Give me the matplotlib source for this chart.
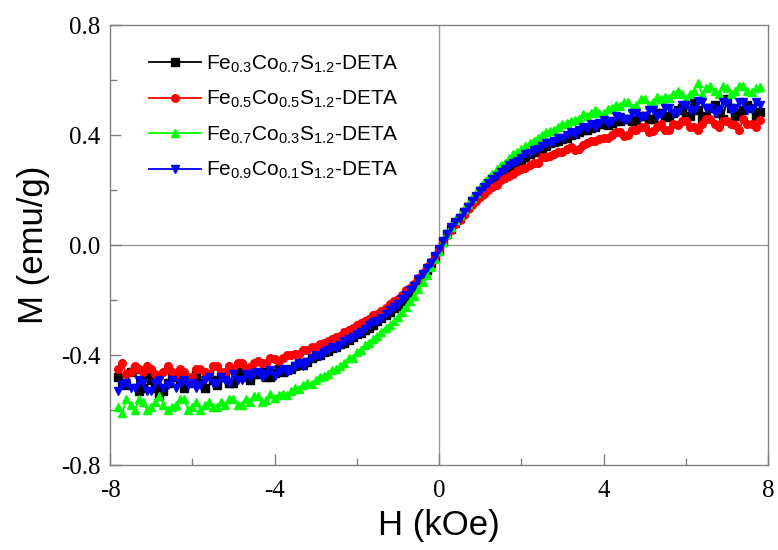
import matplotlib
matplotlib.use("Agg")
import matplotlib.pyplot as plt
import numpy as np
from matplotlib.ticker import MultipleLocator

plt.rcParams['mathtext.fontset'] = 'custom'
plt.rcParams['mathtext.rm'] = 'Liberation Sans'
plt.rcParams['mathtext.default'] = 'regular'

# field sweep, kOe (-7.8 ... 7.8, 0.1 steps)
H = np.round(np.arange(-7.8, 7.81, 0.1), 2)

# magnetization (emu/g), 10 points per row
M_03 = [-0.48, -0.50, -0.51, -0.46, -0.45, -0.53, -0.52, -0.48, -0.49, -0.52,
        -0.55, -0.53, -0.50, -0.48, -0.47, -0.50, -0.52, -0.50, -0.49, -0.47,
        -0.50, -0.52, -0.47, -0.49, -0.51, -0.48, -0.48, -0.50, -0.50, -0.47,
        -0.46, -0.48, -0.49, -0.47, -0.47, -0.46, -0.48, -0.48, -0.465, -0.45,
        -0.46, -0.455, -0.45, -0.44, -0.43, -0.435, -0.425, -0.41, -0.405, -0.40,
        -0.39, -0.385, -0.375, -0.37, -0.36, -0.355, -0.345, -0.335, -0.325, -0.32,
        -0.31, -0.30, -0.29, -0.275, -0.265, -0.255, -0.245, -0.23, -0.22, -0.205,
        -0.185, -0.17, -0.15, -0.13, -0.11, -0.09, -0.065, -0.045, -0.02, 0.01,
        0.04, 0.06, 0.08, 0.10, 0.12, 0.14, 0.16, 0.175, 0.195, 0.205,
        0.22, 0.235, 0.25, 0.26, 0.27, 0.28, 0.29, 0.30, 0.31, 0.32,
        0.33, 0.34, 0.345, 0.35, 0.36, 0.37, 0.375, 0.38, 0.385, 0.39,
        0.40, 0.405, 0.41, 0.42, 0.42, 0.425, 0.43, 0.44, 0.44, 0.435,
        0.445, 0.45, 0.45, 0.46, 0.46, 0.45, 0.455, 0.47, 0.47, 0.46,
        0.46, 0.48, 0.48, 0.47, 0.465, 0.48, 0.49, 0.50, 0.47, 0.47,
        0.52, 0.49, 0.46, 0.47, 0.50, 0.51, 0.48, 0.46, 0.53, 0.50,
        0.47, 0.48, 0.49, 0.51, 0.50, 0.47, 0.485]
M_05 = [-0.45, -0.43, -0.47, -0.46, -0.44, -0.45, -0.46, -0.44, -0.45, -0.47,
        -0.48, -0.46, -0.44, -0.46, -0.47, -0.45, -0.46, -0.48, -0.48, -0.45,
        -0.45, -0.46, -0.47, -0.44, -0.44, -0.46, -0.46, -0.44, -0.45, -0.43,
        -0.43, -0.45, -0.445, -0.43, -0.42, -0.43, -0.43, -0.41, -0.415, -0.42,
        -0.41, -0.40, -0.40, -0.395, -0.395, -0.38, -0.38, -0.37, -0.37, -0.36,
        -0.355, -0.35, -0.34, -0.335, -0.33, -0.315, -0.31, -0.30, -0.29, -0.285,
        -0.275, -0.27, -0.255, -0.25, -0.24, -0.23, -0.215, -0.205, -0.195, -0.18,
        -0.165, -0.155, -0.14, -0.12, -0.10, -0.08, -0.06, -0.04, -0.015, 0.01,
        0.035, 0.055, 0.075, 0.09, 0.11, 0.13, 0.145, 0.16, 0.175, 0.185,
        0.20, 0.21, 0.22, 0.235, 0.245, 0.25, 0.26, 0.27, 0.275, 0.28,
        0.29, 0.30, 0.30, 0.32, 0.32, 0.325, 0.33, 0.34, 0.34, 0.35,
        0.355, 0.345, 0.35, 0.365, 0.37, 0.38, 0.38, 0.385, 0.39, 0.39,
        0.40, 0.41, 0.41, 0.395, 0.40, 0.42, 0.42, 0.43, 0.43, 0.41,
        0.415, 0.43, 0.44, 0.42, 0.42, 0.44, 0.435, 0.45, 0.45, 0.43,
        0.43, 0.42, 0.44, 0.46, 0.46, 0.44, 0.43, 0.45, 0.45, 0.44,
        0.435, 0.42, 0.46, 0.44, 0.44, 0.43, 0.455]
M_07 = [-0.59, -0.61, -0.56, -0.58, -0.60, -0.56, -0.57, -0.60, -0.59, -0.57,
        -0.55, -0.58, -0.60, -0.59, -0.58, -0.56, -0.56, -0.60, -0.59, -0.57,
        -0.60, -0.58, -0.57, -0.59, -0.59, -0.57, -0.58, -0.56, -0.56, -0.58,
        -0.58, -0.56, -0.57, -0.55, -0.55, -0.57, -0.565, -0.54, -0.555, -0.545,
        -0.54, -0.545, -0.53, -0.52, -0.525, -0.51, -0.50, -0.505, -0.49, -0.48,
        -0.475, -0.47, -0.455, -0.45, -0.44, -0.43, -0.41, -0.41, -0.39, -0.38,
        -0.365, -0.355, -0.34, -0.33, -0.315, -0.30, -0.29, -0.275, -0.26, -0.245,
        -0.225, -0.205, -0.185, -0.16, -0.135, -0.11, -0.08, -0.05, -0.02, 0.01,
        0.04, 0.065, 0.09, 0.11, 0.13, 0.15, 0.17, 0.19, 0.21, 0.23,
        0.245, 0.26, 0.275, 0.29, 0.30, 0.315, 0.33, 0.34, 0.35, 0.36,
        0.37, 0.38, 0.39, 0.40, 0.41, 0.415, 0.42, 0.43, 0.44, 0.445,
        0.45, 0.455, 0.46, 0.475, 0.47, 0.48, 0.49, 0.48, 0.48, 0.495,
        0.50, 0.51, 0.505, 0.52, 0.52, 0.50, 0.51, 0.53, 0.53, 0.51,
        0.52, 0.54, 0.53, 0.54, 0.535, 0.55, 0.56, 0.55, 0.53, 0.55,
        0.56, 0.59, 0.545, 0.57, 0.58, 0.56, 0.55, 0.58, 0.57, 0.55,
        0.56, 0.58, 0.58, 0.56, 0.555, 0.57, 0.575]
M_09 = [-0.53, -0.51, -0.50, -0.52, -0.52, -0.49, -0.50, -0.53, -0.53, -0.50,
        -0.49, -0.52, -0.51, -0.49, -0.52, -0.50, -0.49, -0.51, -0.50, -0.52,
        -0.51, -0.49, -0.48, -0.50, -0.50, -0.48, -0.49, -0.50, -0.47, -0.49,
        -0.49, -0.47, -0.48, -0.465, -0.46, -0.48, -0.47, -0.455, -0.475, -0.46,
        -0.45, -0.46, -0.455, -0.44, -0.43, -0.44, -0.425, -0.41, -0.40, -0.405,
        -0.39, -0.38, -0.37, -0.375, -0.365, -0.35, -0.34, -0.335, -0.325, -0.315,
        -0.305, -0.29, -0.28, -0.275, -0.265, -0.25, -0.235, -0.225, -0.215, -0.195,
        -0.18, -0.165, -0.15, -0.125, -0.105, -0.085, -0.065, -0.04, -0.015, 0.015,
        0.04, 0.065, 0.085, 0.10, 0.12, 0.14, 0.16, 0.18, 0.195, 0.21,
        0.225, 0.24, 0.25, 0.265, 0.275, 0.29, 0.30, 0.305, 0.315, 0.33,
        0.335, 0.345, 0.35, 0.36, 0.37, 0.37, 0.38, 0.39, 0.39, 0.40,
        0.41, 0.405, 0.42, 0.43, 0.425, 0.44, 0.43, 0.445, 0.455, 0.445,
        0.45, 0.47, 0.465, 0.455, 0.46, 0.48, 0.48, 0.465, 0.47, 0.49,
        0.49, 0.47, 0.475, 0.50, 0.50, 0.48, 0.485, 0.51, 0.51, 0.49,
        0.49, 0.525, 0.52, 0.50, 0.50, 0.48, 0.49, 0.52, 0.515, 0.49,
        0.50, 0.52, 0.52, 0.49, 0.495, 0.52, 0.51]

labels = [r'Fe$_{0.3}$Co$_{0.7}$S$_{1.2}$-DETA',
          r'Fe$_{0.5}$Co$_{0.5}$S$_{1.2}$-DETA',
          r'Fe$_{0.7}$Co$_{0.3}$S$_{1.2}$-DETA',
          r'Fe$_{0.9}$Co$_{0.1}$S$_{1.2}$-DETA']
colors = ['black', '#ff0000', '#00ff00', '#0000ff']
markers = ['s', 'o', '^', 'v']

fig = plt.figure(figsize=(7.78, 5.5), dpi=100)
ax = fig.add_axes([0.1414, 0.1545, 0.8458, 0.80])

for m, lab, c, mk in zip([M_03, M_05, M_07, M_09], labels, colors, markers):
    ax.plot(H, m, color=c, marker=mk, markersize=5.5, linewidth=1.3, label=lab)

ax.axhline(0, color='#999999', linewidth=1, zorder=0)
ax.axvline(0, color='#999999', linewidth=1, zorder=0)

ax.set_xlim(-8, 8)
ax.set_ylim(-0.8, 0.8)
ax.xaxis.set_minor_locator(MultipleLocator(2))
ax.yaxis.set_minor_locator(MultipleLocator(0.2))
ax.set_xticks([-8, -4, 0, 4, 8])
ax.set_xticklabels(['-8', '-4', '0', '4', '8'])
ax.set_yticks([-0.8, -0.4, 0.0, 0.4, 0.8])
ax.set_yticklabels(['-0.8', '-0.4', '0.0', '0.4', '0.8'])

ax.tick_params(which='both', direction='in', top=False, right=False,
               color='#808080', labelsize=18, width=1)
ax.tick_params(which='major', length=8)
ax.tick_params(which='minor', length=5)
ax.tick_params(axis='x', which='major', pad=11)
ax.tick_params(axis='y', which='major', pad=7)
for lab in ax.get_xticklabels() + ax.get_yticklabels():
    lab.set_family('Liberation Serif')
for s in ax.spines.values():
    s.set_color('#808080')
    s.set_linewidth(1)

ax.set_xlabel('H (kOe)', fontsize=25, family='Liberation Sans', labelpad=5)
ax.set_ylabel('M (emu/g)', fontsize=25, family='Liberation Sans', labelpad=8)

leg = ax.legend(loc='upper left', bbox_to_anchor=(0.059, 0.935), frameon=False,
                prop={'family': 'Liberation Sans', 'size': 15},
                handlelength=2.5, handletextpad=0.25, labelspacing=0.68,
                borderaxespad=0, borderpad=0)

fig.savefig('out.png', dpi=100)
